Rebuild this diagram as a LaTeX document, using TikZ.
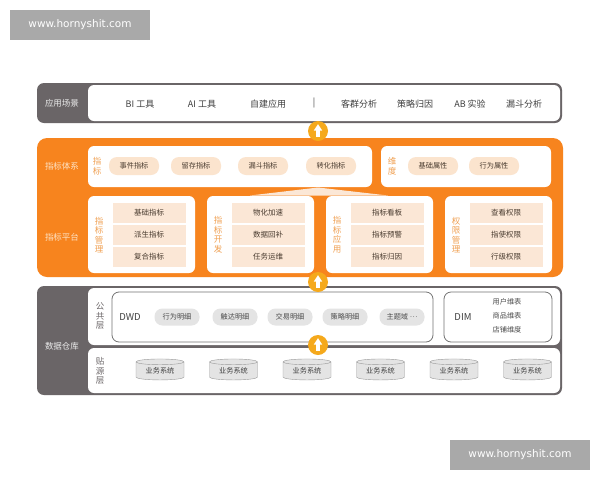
\documentclass[tikz,border=0pt]{standalone}
\usepackage{fontspec}
\setmainfont{Noto Sans CJK SC}
\newfontfamily\wmfont{DejaVu Sans}
\usetikzlibrary{shapes.geometric}
\definecolor{dgray}{HTML}{6A6567}
\definecolor{orng}{HTML}{F7841E}
\definecolor{beige}{HTML}{FBE4CE}
\definecolor{cellc}{HTML}{FBE7D6}
\definecolor{vorng}{HTML}{F0A052}
\definecolor{cream}{HTML}{FDE3C6}
\definecolor{ptext}{HTML}{4A3C30}
\definecolor{gpillc}{HTML}{E4E4E4}
\definecolor{amber}{HTML}{F5A91C}
\definecolor{wmgray}{HTML}{A9A9A9}
\tikzset{
  wm/.style={fill=wmgray, text=white, font=\wmfont\fontsize{10.5}{12}\selectfont, minimum width=140pt, minimum height=30pt, inner sep=0pt},
  lbl/.style={text=white!92!black, font=\fontsize{8.5}{10}\selectfont},
  olbl/.style={text=cream, font=\fontsize{8.5}{10}\selectfont},
  item/.style={text=black!75, font=\fontsize{9}{10}\selectfont},
  pill/.style={fill=beige, rounded corners=8pt, minimum width=50pt, minimum height=18pt, inner sep=0pt, text=ptext, font=\fontsize{7.2}{8}\selectfont},
  cellbox/.style={fill=cellc, minimum width=73pt, minimum height=20pt, inner sep=0pt, text=ptext, font=\fontsize{7.5}{8}\selectfont},
  vlab/.style={text=vorng, align=center, inner sep=0pt, font=\fontsize{8.5}{9.5}\selectfont},
  glab/.style={text=dgray, align=center, inner sep=0pt, font=\fontsize{8.5}{9.5}\selectfont},
  gpill/.style={fill=gpillc, rounded corners=8pt, minimum width=45pt, minimum height=17pt, inner sep=0pt, text=black!70, font=\fontsize{7.2}{8}\selectfont},
  dimtxt/.style={text=black!70, font=\fontsize{7.2}{8}\selectfont},
  cyl/.style={cylinder, shape border rotate=90, aspect=0.2, draw=black!40, fill=gpillc, minimum width=48pt, minimum height=21pt, inner sep=0pt, text=black!75, font=\fontsize{7.2}{8}\selectfont},
  upc/.style={circle, fill=amber, minimum size=20pt, inner sep=0pt},
}
\newcommand{\uparr}[1]{%
  \fill[white] ([xshift=-1.7pt,yshift=-6pt]#1.center) rectangle ([xshift=1.7pt,yshift=1pt]#1.center);
  \fill[white] ([xshift=-4.2pt,yshift=0.5pt]#1.center) -- ([yshift=6.8pt]#1.center) -- ([xshift=4.2pt,yshift=0.5pt]#1.center) -- cycle;}
\begin{document}
\begin{tikzpicture}[x=1pt,y=-1pt]
\useasboundingbox (0,0) rectangle (600,480);
\fill[white] (0,0) rectangle (600,480);

% watermarks
\node[wm] (wm1) at (80,25) {www.hornyshit.com};
\node[wm] (wm2) at (520,455) {www.hornyshit.com};

% row 1: application scenarios
\fill[dgray, rounded corners=7pt] (37,83) rectangle (562,123);
\fill[white, rounded corners=6pt] (88,85) rectangle (560,121);
\node[lbl] (appL) at (62,103) {应用场景};
\node[item] (a1) at (140,104) {BI 工具};
\node[item] (a2) at (202,104) {AI 工具};
\node[item] (a3) at (268,104) {自建应用};
\node[item] (a4) at (314,103) {|};
\node[item] (a5) at (359,104) {客群分析};
\node[item] (a6) at (415,104) {策略归因};
\node[item] (a7) at (470,104) {AB 实验};
\node[item] (a8) at (524,104) {漏斗分析};

% orange block
\fill[orng, rounded corners=10pt] (37,138) rectangle (563,277);
\node[olbl] (sysL) at (62,166) {指标体系};
\node[olbl] (platL) at (62,237) {指标平台};

\fill[white, rounded corners=6pt] (88,146) rectangle (372,187);
\fill[white, rounded corners=6pt] (381,146) rectangle (551,187);
\node[vlab] (zb) at (97,166.5) {指\\标};
\node[pill] (p1) at (134,166) {事件指标};
\node[pill] (p2) at (196,166) {留存指标};
\node[pill] (p3) at (263,166) {漏斗指标};
\node[pill] (p4) at (331,166) {转化指标};
\node[vlab] (wd) at (392,166.5) {维\\度};
\node[pill] (p5) at (433,166) {基础属性};
\node[pill] (p6) at (494,166) {行为属性};

% tent
\fill[cellc] (250,195.5) -- (318,187.5) -- (388,195.5) -- cycle;

% platform boxes
\foreach \bx/\lab/\ta/\tb/\tc/\nm in {
  88/{指\\标\\管\\理}/基础指标/派生指标/复合指标/m,
  207/{指\\标\\开\\发}/物化加速/数据回补/任务运维/d,
  326/{指\\标\\应\\用}/指标看板/指标预警/指标归因/u,
  445/{权\\限\\管\\理}/查看权限/指使权限/行级权限/q}{
  \fill[white, rounded corners=6pt] (\bx,196) rectangle (\bx+107,273);
  \node[vlab] (v\nm) at (\bx+11,235) {\lab};
  \node[cellbox] (c\nm1) at (\bx+61,213) {\ta};
  \node[cellbox] (c\nm2) at (\bx+61,235) {\tb};
  \node[cellbox] (c\nm3) at (\bx+61,257) {\tc};
}

% data warehouse
\fill[dgray, rounded corners=7pt] (37,286) rectangle (562,395);
\fill[white, rounded corners=6pt] (88,288) rectangle (560,345);
\fill[white, rounded corners=6pt] (88,348) rectangle (560,393);
\node[lbl] (dwL) at (62,346) {数据仓库};
\node[glab] (pub) at (100,316) {公\\共\\层};
\node[glab] (src) at (100,371) {贴\\源\\层};

\draw[black!55, line width=0.8pt, rounded corners=7pt] (112,292) rectangle (433,342);
\node[text=black!75, font=\fontsize{9.5}{10}\selectfont] (dwd) at (130,317) {DWD};
\node[gpill] (g1) at (177,317) {行为明细};
\node[gpill] (g2) at (235,317) {触达明细};
\node[gpill] (g3) at (290,317) {交易明细};
\node[gpill] (g4) at (345,317) {策略明细};
\node[gpill] (g5) at (402,317) {主题域 \raisebox{2.2pt}{…}};

\draw[black!55, line width=0.8pt, rounded corners=7pt] (444,292) rectangle (552,342);
\node[text=black!75, font=\fontsize{9.5}{10}\selectfont] (dim) at (463,317) {DIM};
\node[dimtxt] (d1) at (507,302) {用户维表};
\node[dimtxt] (d2) at (507,316) {商品维表};
\node[dimtxt] (d3) at (507,330) {店铺维度};

\foreach \i/\cx in {1/160,2/233.5,3/307,4/380.5,5/454,6/527.5}{
  \node[cyl] (s\i) at (\cx,371) {业务系统};
}

% up arrows
\node[upc] (u1) at (318,131) {};
\uparr{u1}
\node[upc] (u2) at (318,282) {};
\uparr{u2}
\node[upc] (u3) at (318,345) {};
\uparr{u3}
\end{tikzpicture}
\end{document}
